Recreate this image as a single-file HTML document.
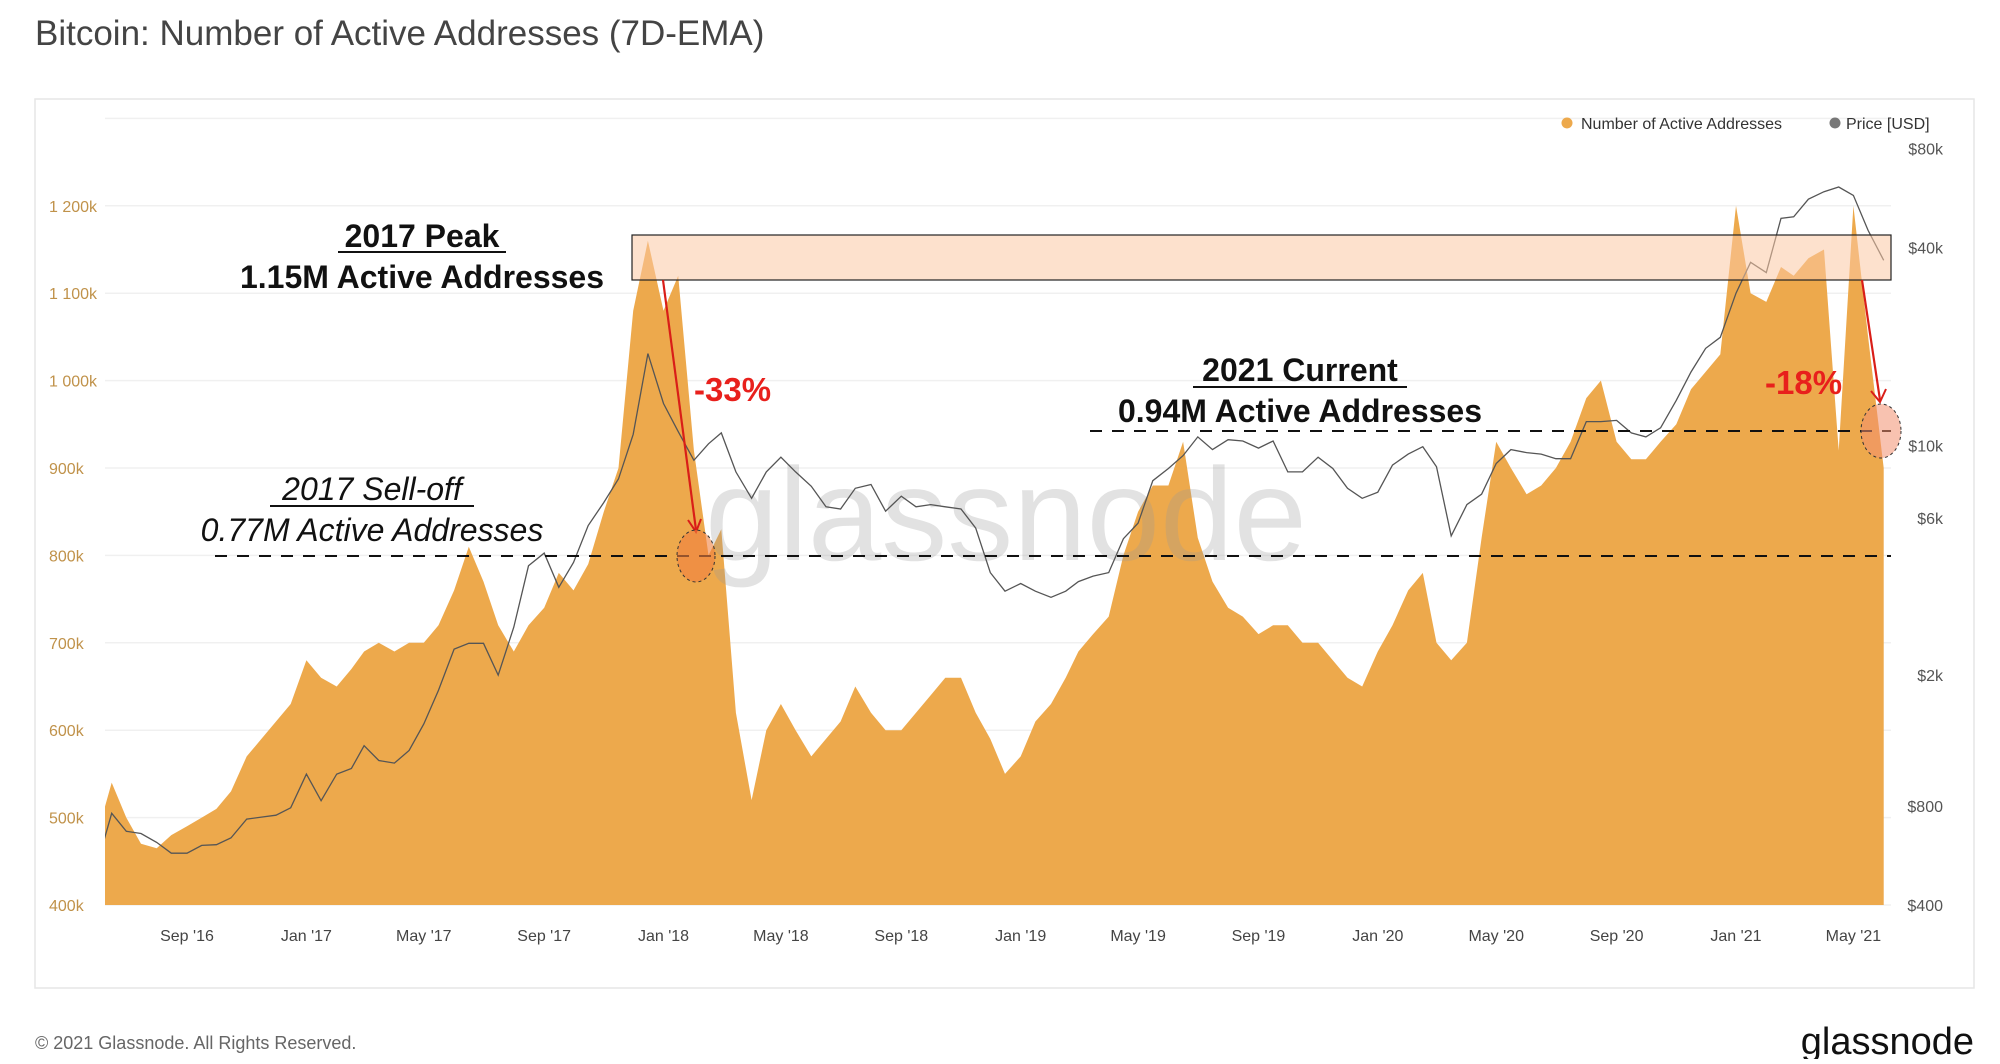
<!DOCTYPE html>
<html><head><meta charset="utf-8"><style>
body{margin:0;background:#fff;}
svg text{font-family:"Liberation Sans",sans-serif;}
</style></head><body>
<svg id="chart" width="2000" height="1059" viewBox="0 0 2000 1059" xmlns="http://www.w3.org/2000/svg">
<defs><clipPath id="plotclip"><rect x="105" y="100" width="1786" height="813"/></clipPath></defs>
<text x="35" y="45" font-size="35" fill="#444">Bitcoin: Number of Active Addresses (7D-EMA)</text>
<rect x="35" y="99" width="1939" height="889" fill="none" stroke="#e6e6e6" stroke-width="1.5"/>
<g id="grid"></g>
<g id="leftAxis"></g>
<g id="rightAxis"></g>
<g id="xAxis"></g>
<g clip-path="url(#plotclip)">
<path id="bars" fill="#eda94c"/>
<text x="1006" y="560" font-size="132" fill="#999" opacity="0.28" text-anchor="middle">glassnode</text>
<path id="price" fill="none" stroke="#555" stroke-width="1.3"/>
</g>
<g>
<circle cx="1567" cy="123" r="5.5" fill="#eda94c"/>
<text x="1581" y="129" font-size="16" fill="#333">Number of Active Addresses</text>
<circle cx="1835" cy="123" r="5.5" fill="#777"/>
<text x="1846" y="129" font-size="16" fill="#333">Price [USD]</text>
</g>
<rect x="632" y="235" width="1259" height="45" fill="#fbc9a4" fill-opacity="0.55" stroke="#222" stroke-width="1.2"/>
<line x1="215" y1="556" x2="1891" y2="556" stroke="#111" stroke-width="2" stroke-dasharray="12,10"/>
<line x1="1090" y1="431" x2="1891" y2="431" stroke="#111" stroke-width="2" stroke-dasharray="12,10"/>
<text x="422" y="247" font-size="32" font-weight="bold" text-anchor="middle" fill="#111">2017 Peak</text>
<line x1="338" y1="252" x2="506" y2="252" stroke="#111" stroke-width="2"/>
<text x="422" y="288" font-size="32" font-weight="bold" text-anchor="middle" fill="#111">1.15M Active Addresses</text>
<text x="372" y="500" font-size="32" font-style="italic" text-anchor="middle" fill="#111">2017 Sell-off</text>
<line x1="270" y1="506" x2="474" y2="506" stroke="#111" stroke-width="2"/>
<text x="372" y="541" font-size="32" font-style="italic" text-anchor="middle" fill="#111">0.77M Active Addresses</text>
<text x="1300" y="381" font-size="32" font-weight="bold" text-anchor="middle" fill="#111">2021 Current</text>
<line x1="1193" y1="387" x2="1407" y2="387" stroke="#111" stroke-width="2"/>
<text x="1300" y="422" font-size="32" font-weight="bold" text-anchor="middle" fill="#111">0.94M Active Addresses</text>
<text x="694" y="401" font-size="33" font-weight="bold" fill="#e8201c">-33%</text>
<text x="1765" y="394" font-size="33" font-weight="bold" fill="#e8201c">-18%</text>
<line x1="663" y1="280" x2="696" y2="530" stroke="#d91e18" stroke-width="2.2"/>
<path d="M688,520 L696,532 L701,519" fill="none" stroke="#d91e18" stroke-width="2"/>
<line x1="1862" y1="280" x2="1880" y2="400" stroke="#d91e18" stroke-width="2.2"/>
<path d="M1871,391 L1880,402 L1886,389" fill="none" stroke="#d91e18" stroke-width="2"/>
<ellipse cx="696" cy="556" rx="19" ry="26" fill="#f08040" fill-opacity="0.6" stroke="#333" stroke-width="1" stroke-dasharray="3,3"/>
<ellipse cx="1881" cy="431" rx="20" ry="27" fill="#f29070" fill-opacity="0.55" stroke="#333" stroke-width="1" stroke-dasharray="3,3"/>
<text x="35" y="1049" font-size="18" fill="#666">© 2021 Glassnode. All Rights Reserved.</text>
<text x="1974" y="1054" font-size="38" fill="#111" text-anchor="end">glassnode</text>
</svg>
<script>
// semi-monthly samples starting Jun 1 2016 (1st and 16th of each month)
const addresses = [480,540,500,470,465,480,490,500,510,530,570,590,610,630,
680,660,650,670,690,700,690,700,700,720,760,810,770,720,690,720,740,780,760,790,850,900,1080,1160,
1080,1120,920,800,830,620,520,600,630,600,570,590,610,650,620,600,600,620,640,660,660,620,590,550,
570,610,630,660,690,710,730,800,850,880,880,930,820,770,740,730,710,720,720,700,700,680,660,650,
690,720,760,780,700,680,700,820,930,900,870,880,900,930,980,1000,930,910,910,930,950,990,1010,1030,
1200,1100,1090,1130,1120,1140,1150,920,1200,1050,900];
const prices = [530,760,670,660,620,575,575,607,610,640,730,740,750,790,
1000,830,1000,1040,1220,1100,1080,1180,1420,1800,2400,2500,2500,2000,2800,4300,4700,3700,4400,5700,6700,7900,10800,19000,
13400,11000,9000,10100,10900,8300,6900,8300,9200,8300,7500,6500,6400,7400,7600,6300,7000,6500,6600,6500,6400,5600,4100,3600,
3800,3600,3450,3600,3850,4000,4100,5200,5800,7800,8500,9300,10600,9700,10400,10300,9800,10300,8300,8300,9200,8500,7400,6900,
7200,8700,9400,9900,8600,5300,6600,7100,8800,9700,9500,9400,9100,9100,11800,11800,11900,10900,10600,11300,13700,16700,19700,21300,
29000,36000,33500,49000,49500,56000,59000,61000,57500,45000,36500];
const leftTicks = [400,500,600,700,800,900,1000,1100,1200];
const leftTickLabels = ["400k","500k","600k","700k","800k","900k","1 000k","1 100k","1 200k"];
const rightTicks = [400,800,2000,6000,10000,40000,80000];
const rightTickLabels = ["$400","$800","$2k","$6k","$10k","$40k","$80k"];
const xTickLabels = ["Sep '16","Jan '17","May '17","Sep '17","Jan '18","May '18","Sep '18","Jan '19","May '19","Sep '19","Jan '20","May '20","Sep '20","Jan '21","May '21"];

const NS="http://www.w3.org/2000/svg";
const t0=Date.UTC(2016,8,1);
function xDate(ms){return 187+(ms-t0)/86400000*0.9785;}
function yLeft(v){return 905-(v-400)*0.874;}
function yRight(p){return 905-99*Math.log2(p/400);}
function sampleDate(i){return Date.UTC(2016,5+Math.floor(i/2),i%2?16:1);}
function mk(tag,parent){const e=document.createElementNS(NS,tag);parent.appendChild(e);return e;}

const grid=document.getElementById('grid');
[...leftTicks,1300].forEach(v=>{
  const l=mk('line',grid);
  
  
  l.setAttribute('x1',105);l.setAttribute('x2',1891);
  l.setAttribute('y1',yLeft(v));l.setAttribute('y2',yLeft(v));
  l.setAttribute('stroke','#f0f0f0');l.setAttribute('stroke-width','1.5');
});
const la=document.getElementById('leftAxis');
leftTicks.forEach((v,i)=>{
  const t=mk('text',la);
  
  
  t.setAttribute('x',49);t.setAttribute('y',yLeft(v)+6);
  t.setAttribute('font-size','16');t.setAttribute('fill','#c0924a');
  t.textContent=leftTickLabels[i];
});
const ra=document.getElementById('rightAxis');
rightTicks.forEach((p,i)=>{
  const t=mk('text',ra);
  
  
  t.setAttribute('x',1943);t.setAttribute('y',yRight(p)+6);
  t.setAttribute('text-anchor','end');
  t.setAttribute('font-size','16');t.setAttribute('fill','#555');
  t.textContent=rightTickLabels[i];
});
const xa=document.getElementById('xAxis');
xTickLabels.forEach((s,i)=>{
  const t=mk('text',xa);
  
  
  t.setAttribute('x',xDate(Date.UTC(2016,8+4*i,1)));t.setAttribute('y',941);
  t.setAttribute('text-anchor','middle');
  t.setAttribute('font-size','16');t.setAttribute('fill','#444');
  t.textContent=s;
});
let d='M'+xDate(sampleDate(0))+','+yLeft(400);
addresses.forEach((v,i)=>{d+=' L'+xDate(sampleDate(i)).toFixed(1)+','+yLeft(v).toFixed(1);});
d+=' L'+xDate(sampleDate(addresses.length-1))+','+yLeft(400)+' Z';
document.getElementById('bars').setAttribute('d',d);
let pd='';
prices.forEach((p,i)=>{pd+=(i?' L':'M')+xDate(sampleDate(i)).toFixed(1)+','+yRight(p).toFixed(1);});
document.getElementById('price').setAttribute('d',pd);
</script>
</body></html>
